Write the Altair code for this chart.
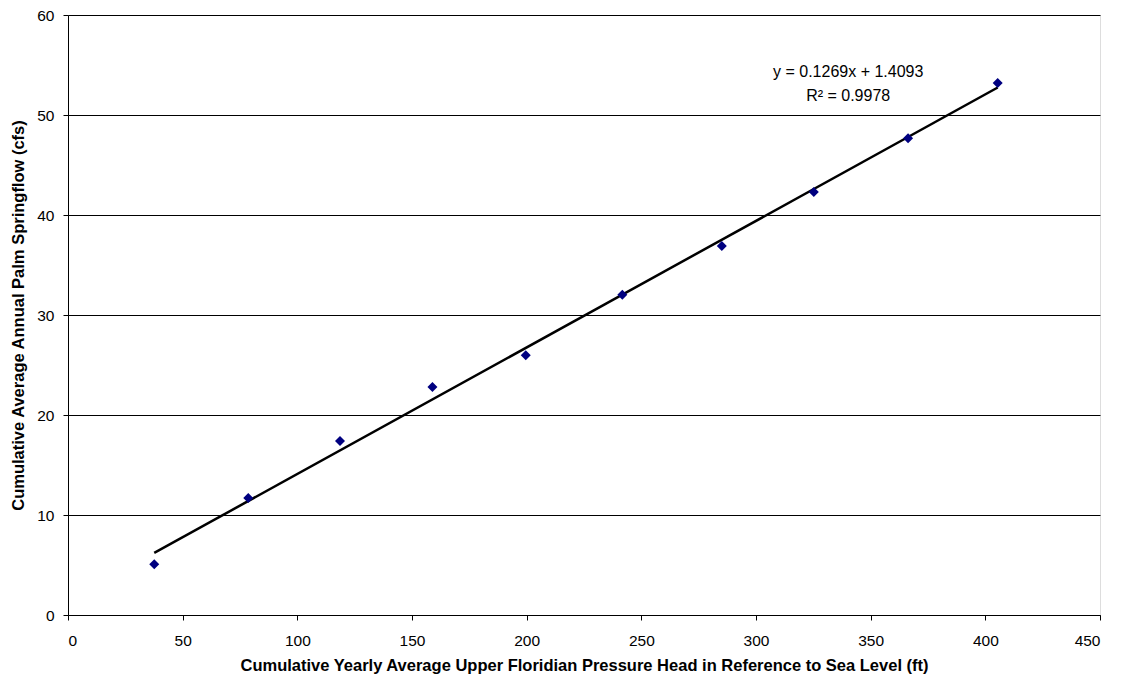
import altair as alt
import pandas as pd

head_ft = [37.6, 78.6, 118.6, 158.9, 199.6, 241.7, 285.1, 325.2, 366.3, 405.4]
flow_cfs = [5.07, 11.7, 17.4, 22.8, 25.97, 32.03, 36.9, 42.3, 47.67, 53.2]
eq_lines = ["y = 0.1269x + 1.4093", "R² = 0.9978"]
eq_x = [340.2, 340.2]
eq_y = [54.3, 51.9]

df = pd.DataFrame({"x": head_ft, "y": flow_cfs})
lab = pd.DataFrame({"t": eq_lines, "x": eq_x, "y": eq_y})

FONT = "Liberation Sans"
xs = alt.Scale(domain=[0, 450], nice=False, zero=True)
ys = alt.Scale(domain=[0, 60], nice=False, zero=True)

xax = alt.Axis(
    values=list(range(0, 451, 50)), grid=False, tickSize=5, tickColor="black",
    domainColor="black", labelFont=FONT, labelFontSize=15.5, labelColor="black",
    labelPadding=13, title="Cumulative Yearly Average Upper Floridian Pressure Head in Reference to Sea Level (ft)",
    titleFont=FONT, titleFontSize=16.5, titleFontWeight="bold", titleColor="black", titlePadding=9,
)
yax = alt.Axis(
    values=list(range(0, 61, 10)), grid=True, gridColor="black", gridWidth=1, tickSize=5,
    tickColor="black", domainColor="black", labelFont=FONT, labelFontSize=15.5,
    labelColor="black", labelPadding=9,
    title="Cumulative Average Annual Palm Springflow (cfs)", titleFont=FONT,
    titleFontSize=16.5, titleFontWeight="bold", titleColor="black", titlePadding=10,
)

pts = alt.Chart(df).mark_point(shape="diamond", filled=True, color="#000080", size=100, opacity=1).encode(
    x=alt.X("x:Q", scale=xs, axis=xax),
    y=alt.Y("y:Q", scale=ys, axis=yax),
)

trend = alt.Chart(df).transform_regression("x", "y", method="linear").mark_line(
    color="black", strokeWidth=2.5
).encode(x=alt.X("x:Q", scale=xs), y=alt.Y("y:Q", scale=ys))

txt = alt.Chart(lab).mark_text(font=FONT, fontSize=16, color="black", align="center", baseline="middle").encode(
    x=alt.X("x:Q", scale=xs), y=alt.Y("y:Q", scale=ys), text="t:N"
)

chart = alt.layer(trend, pts, txt).properties(
    width=1032, height=600,
    autosize=alt.AutoSizeParams(type="none"),
    padding={"left": 60, "top": 7, "right": 10, "bottom": 60},
).configure_view(stroke="#808080", strokeWidth=1).configure(background="white")

chart.save("out.html", embed_options={"renderer": "svg", "actions": False})
